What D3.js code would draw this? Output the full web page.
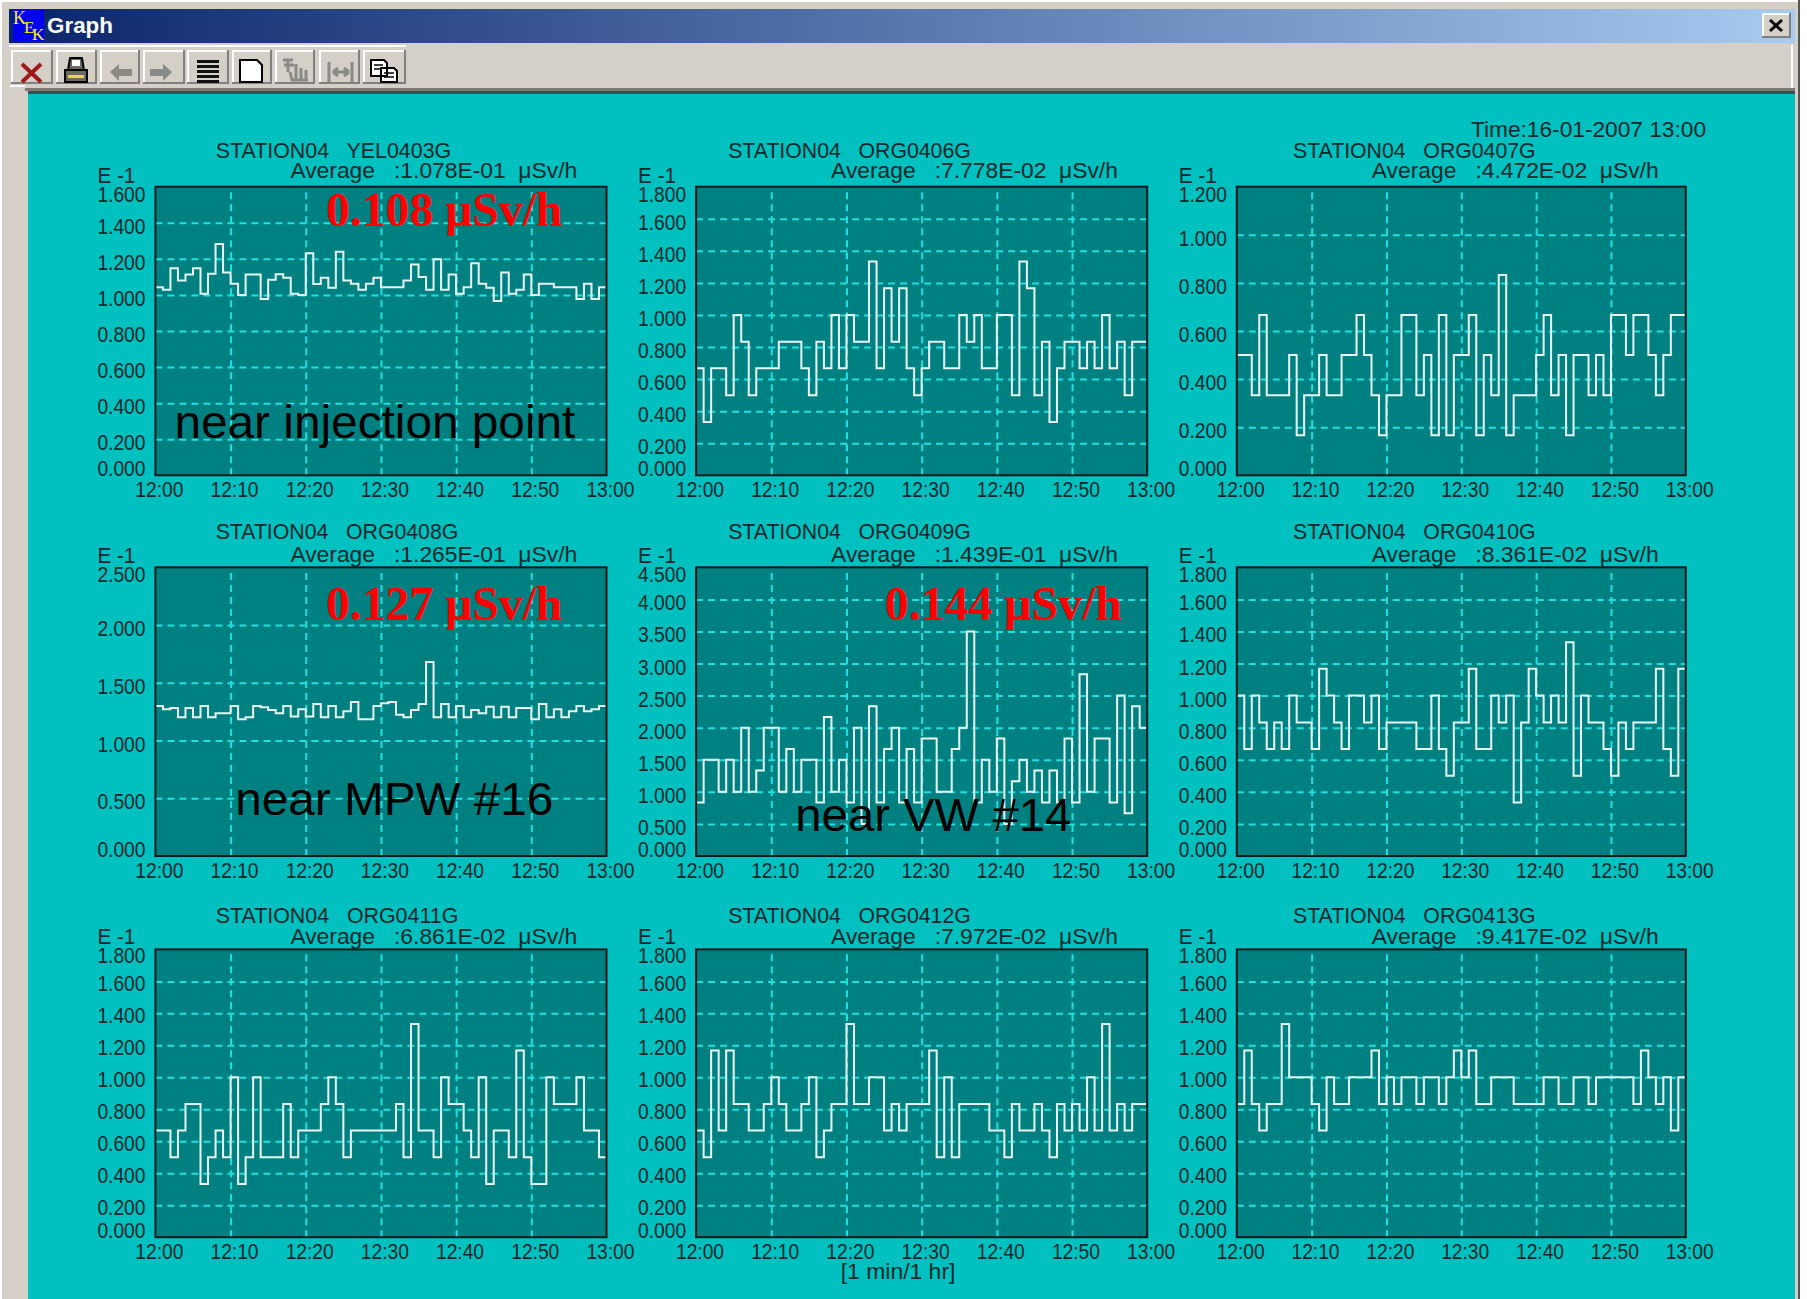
<!DOCTYPE html>
<html>
<head>
<meta charset="utf-8">
<title>Graph</title>
<script src="https://d3js.org/d3.v7.min.js"></script>
<style>
	html, body { margin: 0; padding: 0; background: #ffffff; }
	svg { display: block; }
	text { white-space: pre; }
</style>
</head>
<body>
<div id="myGraph"></div>
<script>
// color definitions
var teal = '#00c0c0';
var plotcolor = '#008080';
var gridcolor = '#20e0e0';
var tracecolor = '#e8f8f8';
var tcolor = '#06282b';
var chrome = '#d4d0c8';
var font = "'Liberation Sans', Arial, sans-serif";

// tick values shared by the panels
var minuteTicks = [0, 10, 20, 30, 40, 50, 60];
var minuteLabels = ['12:00', '12:10', '12:20', '12:30', '12:40', '12:50', '13:00'];
var ticks16 = [0, 0.2, 0.4, 0.6, 0.8, 1.0, 1.2, 1.4, 1.6];
var ticks18 = [0, 0.2, 0.4, 0.6, 0.8, 1.0, 1.2, 1.4, 1.6, 1.8];
var ticks12 = [0, 0.2, 0.4, 0.6, 0.8, 1.0, 1.2];
var ticks25 = [0, 0.5, 1.0, 1.5, 2.0, 2.5];
var ticks45 = [0, 0.5, 1.0, 1.5, 2.0, 2.5, 3.0, 3.5, 4.0, 4.5];

// one reading per minute, in units of E-1 uSv/h
var yel0403 = [
	1.043, 1.029, 1.148, 1.080, 1.113, 1.148, 1.006, 1.117, 1.283, 1.124,
	1.062, 0.999, 1.113, 1.113, 0.977, 1.084, 1.115, 1.095, 1.006, 0.999,
	1.231, 1.060, 1.095, 1.040, 1.239, 1.080, 1.062, 1.029, 1.062, 1.095,
	1.043, 1.043, 1.043, 1.080, 1.169, 1.099, 1.029, 1.198, 1.029, 1.113,
	1.006, 1.043, 1.176, 1.062, 1.040, 0.966, 1.124, 1.006, 1.029, 1.113,
	0.999, 1.062, 1.062, 1.043, 1.043, 1.043, 0.977, 1.062, 0.977, 1.043
];
var org0406 = [
	0.667, 0.333, 0.667, 0.667, 0.500, 1.000, 0.833, 0.500, 0.667, 0.667,
	0.667, 0.833, 0.833, 0.833, 0.667, 0.500, 0.833, 0.667, 1.000, 0.667,
	1.000, 0.833, 0.833, 1.333, 0.667, 1.167, 0.833, 1.167, 0.667, 0.500,
	0.667, 0.833, 0.833, 0.667, 0.667, 1.000, 0.833, 1.000, 0.667, 0.667,
	1.000, 1.000, 0.500, 1.333, 1.167, 0.500, 0.833, 0.333, 0.667, 0.833,
	0.833, 0.667, 0.833, 0.667, 1.000, 0.667, 0.833, 0.500, 0.833, 0.833
];
var org0407 = [
	0.500, 0.500, 0.333, 0.667, 0.333, 0.333, 0.333, 0.500, 0.167, 0.333,
	0.333, 0.500, 0.333, 0.333, 0.500, 0.500, 0.667, 0.500, 0.333, 0.167,
	0.333, 0.333, 0.667, 0.667, 0.333, 0.500, 0.167, 0.667, 0.167, 0.500,
	0.500, 0.667, 0.167, 0.500, 0.333, 0.833, 0.167, 0.333, 0.333, 0.333,
	0.500, 0.667, 0.333, 0.500, 0.167, 0.500, 0.500, 0.333, 0.500, 0.333,
	0.667, 0.667, 0.500, 0.667, 0.667, 0.500, 0.333, 0.500, 0.667, 0.667
];
var org0408 = [
	1.299, 1.270, 1.282, 1.201, 1.282, 1.201, 1.299, 1.201, 1.236, 1.236,
	1.299, 1.184, 1.201, 1.299, 1.288, 1.264, 1.236, 1.299, 1.207, 1.270,
	1.207, 1.316, 1.201, 1.299, 1.201, 1.253, 1.334, 1.184, 1.184, 1.299,
	1.322, 1.334, 1.224, 1.201, 1.264, 1.316, 1.680, 1.201, 1.316, 1.201,
	1.299, 1.201, 1.264, 1.236, 1.293, 1.201, 1.293, 1.201, 1.282, 1.282,
	1.184, 1.316, 1.201, 1.270, 1.201, 1.253, 1.299, 1.253, 1.270, 1.299
];
var org0409 = [
	0.833, 1.500, 1.500, 1.000, 1.500, 1.000, 2.000, 1.000, 1.333, 2.000,
	2.000, 1.000, 1.667, 1.000, 1.500, 1.500, 0.833, 2.167, 1.000, 1.500,
	0.833, 2.000, 0.500, 2.333, 0.833, 1.667, 2.000, 0.833, 1.667, 0.833,
	1.833, 1.833, 1.000, 1.000, 1.667, 2.000, 3.500, 0.833, 1.500, 1.000,
	1.833, 0.500, 1.167, 1.500, 1.000, 1.333, 0.833, 1.333, 0.833, 1.833,
	0.833, 2.833, 1.000, 1.833, 1.833, 0.833, 2.500, 0.667, 2.333, 2.000
];
var org0410 = [
	1.000, 0.667, 1.000, 0.833, 0.667, 0.833, 0.667, 1.000, 0.833, 0.833,
	0.667, 1.167, 1.000, 0.833, 0.667, 1.000, 1.000, 0.833, 1.000, 0.667,
	0.833, 0.833, 0.833, 0.833, 0.667, 0.667, 1.000, 0.667, 0.500, 0.833,
	0.833, 1.167, 0.667, 0.667, 1.000, 0.833, 1.000, 0.333, 0.833, 1.167,
	1.000, 0.833, 1.000, 0.833, 1.333, 0.500, 1.000, 0.833, 0.833, 0.667,
	0.500, 0.833, 0.667, 0.833, 0.833, 0.833, 1.167, 0.667, 0.500, 1.167
];
var org0411 = [
	0.667, 0.667, 0.500, 0.667, 0.833, 0.833, 0.333, 0.500, 0.667, 0.500,
	1.000, 0.333, 0.500, 1.000, 0.500, 0.500, 0.500, 0.833, 0.500, 0.667,
	0.667, 0.667, 0.833, 1.000, 0.833, 0.500, 0.667, 0.667, 0.667, 0.667,
	0.667, 0.667, 0.833, 0.500, 1.333, 0.667, 0.667, 0.500, 1.000, 0.833,
	0.833, 0.667, 0.500, 1.000, 0.333, 0.667, 0.667, 0.500, 1.167, 0.500,
	0.333, 0.333, 1.000, 0.833, 0.833, 0.833, 1.000, 0.667, 0.667, 0.500
];
var org0412 = [
	0.667, 0.500, 1.167, 0.667, 1.167, 0.833, 0.833, 0.667, 0.667, 0.833,
	1.000, 0.833, 0.667, 0.667, 0.833, 1.000, 0.500, 0.667, 0.833, 0.833,
	1.333, 0.833, 0.833, 1.000, 1.000, 0.667, 0.833, 0.667, 0.833, 0.833,
	0.833, 1.167, 0.500, 1.000, 0.500, 0.833, 0.833, 0.833, 0.833, 0.667,
	0.667, 0.500, 0.833, 0.667, 0.667, 0.833, 0.667, 0.500, 0.833, 0.667,
	0.833, 0.667, 1.000, 0.667, 1.333, 0.667, 0.833, 0.667, 0.833, 0.833
];
var org0413 = [
	0.833, 1.167, 0.833, 0.667, 0.833, 0.833, 1.333, 1.000, 1.000, 1.000,
	0.833, 0.667, 1.000, 0.833, 0.833, 1.000, 1.000, 1.000, 1.167, 0.833,
	1.000, 0.833, 1.000, 1.000, 0.833, 1.000, 1.000, 0.833, 1.000, 1.167,
	1.000, 1.167, 0.833, 0.833, 1.000, 1.000, 1.000, 0.833, 0.833, 0.833,
	0.833, 1.000, 1.000, 0.833, 0.833, 1.000, 1.000, 0.833, 1.000, 1.000,
	1.000, 1.000, 1.000, 0.833, 1.167, 1.000, 0.833, 1.000, 0.667, 1.000
];

var channels = ['YEL0403G', 'ORG0406G', 'ORG0407G', 'ORG0408G', 'ORG0409G', 'ORG0410G', 'ORG0411G', 'ORG0412G', 'ORG0413G'];
var averages = ['1.078E-01', '7.778E-02', '4.472E-02', '1.265E-01', '1.439E-01', '8.361E-02', '6.861E-02', '7.972E-02', '9.417E-02'];
var seriesList = [yel0403, org0406, org0407, org0408, org0409, org0410, org0411, org0412, org0413];
var tickList = [ticks16, ticks18, ticks12, ticks25, ticks45, ticks18, ticks18, ticks18, ticks18];

var width = 1807, height = 1299;

var svg = d3.select('#myGraph')
	.append('svg')
	.attr('width', width)
	.attr('height', height);

// text helper, squeezes the string to the width it has in the screenshot
function label(parent, str, x, y, w, size, opts) {
	opts = opts || {};
	var t = parent.append('text')
		.attr('x', x)
		.attr('y', y)
		.attr('font-family', opts.family || font)
		.attr('font-size', size)
		.attr('font-weight', opts.weight || 'normal')
		.attr('fill', opts.color || tcolor)
		.attr('text-anchor', opts.anchor || 'start')
		.text(str);
	if (w) {
		t.attr('textLength', w).attr('lengthAdjust', 'spacingAndGlyphs');
	}
	return t;
}

function box(parent, x, y, w, h, fill) {
	return parent.append('rect')
		.attr('x', x).attr('y', y).attr('width', w).attr('height', h)
		.attr('fill', fill);
}

function raised(parent, x, y, w, h) {
	box(parent, x, y, w, h, '#808080');
	box(parent, x, y, w - 2, h - 2, '#ffffff');
	box(parent, x + 2, y + 2, w - 4, h - 4, chrome);
}

function drawWindow() {
	var defs = svg.append('defs');
	var grad = defs.append('linearGradient').attr('id', 'titlebar');
	grad.append('stop').attr('offset', '0%').attr('stop-color', '#0a246a');
	grad.append('stop').attr('offset', '100%').attr('stop-color', '#a6caf0');

	box(svg, 2, 0, 1796, height, chrome);
	box(svg, 2, 0, 1796, 2, '#ffffff');
	box(svg, 1798, 0, 2, height, '#555555');
	box(svg, 9, 9, 1786, 34, 'url(#titlebar)');

	// kek logo and caption
	var yellow = { color: '#f4f400', family: "'Liberation Serif', serif" };
	box(svg, 13, 10, 31, 31, '#0000f0');
	label(svg, 'K', 13, 24, 0, 18, yellow);
	label(svg, 'E', 24, 33, 0, 17, yellow);
	label(svg, 'K', 32, 40, 0, 17, yellow);
	label(svg, 'Graph', 47, 33, 66, 22, { color: '#ffffff', weight: 'bold' });

	// close button
	raised(svg, 1762, 13, 29, 25);
	svg.append('path')
		.attr('d', 'M1770 20L1782 31M1782 20L1770 31')
		.attr('stroke', '#000000').attr('stroke-width', 3).attr('fill', 'none');

	// toolbar
	box(svg, 9, 43, 1786, 47, chrome);
	box(svg, 1791, 45, 2, 45, '#ffffff');
	box(svg, 9, 45, 397, 2, '#ffffff');
	box(svg, 10, 85, 15, 2, '#ffffff');
	box(svg, 25, 88, 1770, 3, '#777777');
	box(svg, 28, 91, 1767, 3, '#3d4f50');

	var btn = [[11, 42], [56, 41], [100, 40], [143, 42], [187, 42], [232, 40], [275, 40], [319, 41], [363, 43]];
	btn.forEach(function (b) {
		raised(svg, b[0], 50, b[1], 34);
	});

	// toolbar glyphs
	svg.append('path').attr('d', 'M22 64L41 82M41 64L22 82')
		.attr('stroke', '#a01818').attr('stroke-width', 4).attr('fill', 'none');
	// printer
	svg.append('path').attr('d', 'M65 70h22v12h-22zM70 58h12l2 12h-16z')
		.attr('fill', '#6a6a62').attr('stroke', '#000000').attr('stroke-width', 2);
	box(svg, 68, 75, 16, 3, '#e8d850');
	box(svg, 72, 60, 8, 6, '#ffffff');
	// back and forward arrows
	svg.append('path').attr('d', 'M110 72l9 -8v5h13v7h-13v5z').attr('fill', '#8a8a86');
	svg.append('path').attr('d', 'M172 72l-9 -8v5h-13v7h13v5z').attr('fill', '#8a8a86');
	// list
	[60, 65, 70, 75, 80].forEach(function (y) {
		box(svg, 197, y, 22, 3, '#111111');
	});
	// page
	svg.append('path').attr('d', 'M240 60h17l5 5v17h-22z')
		.attr('fill', '#ffffff').attr('stroke', '#000000').attr('stroke-width', 2);
	// hand, greyed
	svg.append('path').attr('d', 'M283 60h10M284 65h10M288 60v12M296 64v16M301 68v12M306 70v10M290 72l2 8h16')
		.attr('fill', 'none').attr('stroke', '#8a8a86').attr('stroke-width', 3);
	// fit width, greyed
	svg.append('path').attr('d', 'M329 62v20M352 62v20M333 72h16M333 72l5 -4M333 72l5 4M349 72l-5 -4M349 72l-5 4')
		.attr('fill', 'none').attr('stroke', '#8a8a86').attr('stroke-width', 3);
	// copy
	svg.append('path').attr('d', 'M371 60h13l3 3v13h-16zM381 68h13l3 3v11h-16z')
		.attr('fill', '#ffffff').attr('stroke', '#000000').attr('stroke-width', 2);
	svg.append('path').attr('d', 'M374 65h9M374 69h6M384 73h10M384 77h10')
		.attr('fill', 'none').attr('stroke', '#000000').attr('stroke-width', 1.5);

	// drawing area
	box(svg, 28, 94, 1767, height - 94, teal);
}

function plotPanel(i, left, right, top, bottom) {
	var values = seriesList[i];
	var ticks = tickList[i];
	var ymax = ticks[ticks.length - 1];
	var row = Math.floor(i / 3);
	var g = svg.append('g').attr('class', 'panel');

	var x = d3.scaleLinear().domain([0, 60]).range([left, right]);
	var y = d3.scaleLinear().domain([0, ymax]).range([bottom, top]);

	box(g, left, top, right - left, bottom - top, plotcolor);

	// grid
	var gridY = g.append('g')
		.attr('transform', 'translate(' + left + ',0)')
		.call(d3.axisLeft(y)
			.tickValues(ticks.slice(1, -1))
			.tickSize(-(right - left))
			.tickFormat(''));
	var gridX = g.append('g')
		.attr('transform', 'translate(0,' + bottom + ')')
		.call(d3.axisBottom(x)
			.tickValues(minuteTicks.slice(1, -1))
			.tickSize(-(bottom - top))
			.tickFormat(''));
	[gridY, gridX].forEach(function (a) {
		a.select('.domain').remove();
		a.selectAll('line')
			.attr('stroke', gridcolor)
			.attr('stroke-width', 2)
			.attr('stroke-dasharray', '7,5');
	});

	// trace, one flat step for each minute
	var points = values.map(function (v, m) { return [m, v]; });
	points.push([60, values[values.length - 1]]);
	var line = d3.line()
		.x(function (d) { return x(d[0]); })
		.y(function (d) { return y(d[1]); })
		.curve(d3.curveStepAfter);
	g.append('path')
		.datum(points)
		.attr('d', line)
		.attr('fill', 'none')
		.attr('stroke', tracecolor)
		.attr('stroke-width', 2);

	g.append('rect')
		.attr('x', left).attr('y', top)
		.attr('width', right - left).attr('height', bottom - top)
		.attr('fill', 'none')
		.attr('stroke', '#04191c')
		.attr('stroke-width', 2);

	// y labels, the top and bottom ones are pulled inside like the original
	var shift = row == 2 ? -2 : -1;
	var yAxis = g.append('g')
		.attr('transform', 'translate(' + (left - 10) + ',0)')
		.call(d3.axisLeft(y).tickValues(ticks).tickSize(0).tickPadding(0).tickFormat(d3.format('.3f')));
	yAxis.select('.domain').remove();
	yAxis.selectAll('text')
		.attr('font-family', font)
		.attr('font-size', 22)
		.attr('fill', tcolor)
		.attr('x', 0)
		.attr('dy', function (d) {
			if (d == 0) return 0.5;
			if (d == ymax) return 15.5 + shift;
			return 11.5 + shift;
		})
		.attr('textLength', 48)
		.attr('lengthAdjust', 'spacingAndGlyphs');

	// x labels
	var xAxis = g.append('g')
		.attr('transform', 'translate(3.4,' + (bottom + 22) + ')')
		.call(d3.axisBottom(x)
			.tickValues(minuteTicks)
			.tickSize(0)
			.tickPadding(0)
			.tickFormat(function (d, n) { return minuteLabels[n]; }));
	xAxis.select('.domain').remove();
	xAxis.selectAll('text')
		.attr('font-family', font)
		.attr('font-size', 22)
		.attr('fill', tcolor)
		.attr('y', 0)
		.attr('dy', 0)
		.attr('textLength', 48)
		.attr('lengthAdjust', 'spacingAndGlyphs');

	// headings
	var titleX = [60.3, 32.1, 56.2][i % 3];
	var titleW = i == 0 ? 235.5 : 242.6;
	var titleY = top - [28.7, 28.3, 26.6][row];
	var avgY = top - [9, 5.6, 5.6][row];
	var eY = top - [3.7, 4.3, 5.6][row];
	label(g, 'STATION04   ' + channels[i], left + titleX, titleY, titleW, 22);
	label(g, 'Average   :' + averages[i] + '  \u03bcSv/h', left + 135, avgY, 286.8, 22);
	label(g, 'E -1', left - 58, eY, 38, 22);
}

function plotNotes() {
	var red = { family: "'Liberation Serif', serif", weight: 'bold', color: '#ff0000' };
	var black = { color: '#000000' };
	label(svg, '0.108 \u03bcSv/h', 325.9, 226, 236.5, 48, red);
	label(svg, '0.127 \u03bcSv/h', 325.9, 620, 236.5, 48, red);
	label(svg, '0.144 \u03bcSv/h', 884.8, 620, 237, 48, red);
	label(svg, 'near injection point', 174.4, 438.3, 401, 47, black);
	label(svg, 'near MPW #16', 235.3, 815, 318, 47, black);
	label(svg, 'near VW #14', 795.3, 830.7, 276, 47, black);
	label(svg, 'Time:16-01-2007 13:00', 1471, 137, 235, 22);
	label(svg, '[1 min/1 hr]', 840.7, 1279, 114.7, 22);
}

function init() {
	drawWindow();
	var lefts = [155.4, 696.1, 1236.8];
	var rights = [606.5, 1147.2, 1685.8];
	var tops = [186.7, 567.3, 949.4];
	var bottoms = [475.3, 856, 1237.2];
	for (var i = 0; i < 9; i++) {
		var col = i % 3, row = Math.floor(i / 3);
		plotPanel(i, lefts[col], rights[col], tops[row], bottoms[row]);
	}
	plotNotes();
}

init();
</script>
</body>
</html>
